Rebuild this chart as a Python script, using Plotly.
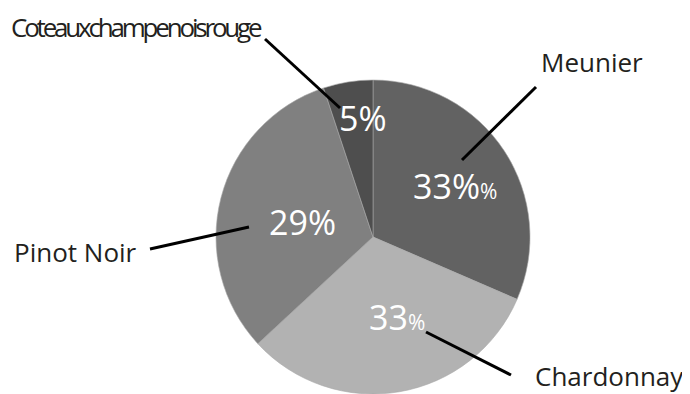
import plotly.graph_objects as go

categories = ["Meunier", "Chardonnay", "Pinot Noir", "Coteauxchampenoisrouge"]
values = [31.5, 31.6, 31.8, 5.1]
pct_labels = ["33%", "33", "29%", "5%"]
pct_suffix = ["%", "%", "", ""]

colors = ["#626262", "#b2b2b2", "#808080", "#4e4e4e"]

# the page body has an 8px margin; size the figure to fill the visible window
OFF = 8
W, H = 690 - OFF, 394 - OFF
cx, cy, r = 373 - OFF, 237 - OFF, 157

fig = go.Figure(go.Pie(
    labels=categories, values=values, sort=False, direction="clockwise",
    rotation=0, textinfo="none", hoverinfo="label+value",
    marker=dict(colors=colors, line=dict(color="#a8a8a8", width=0.6)),
    domain=dict(x=[(cx - r) / W, (cx + r) / W], y=[0, 2 * r / H]),
    showlegend=False,
))

def px(x, y):
    return (x - OFF) / W, 1 - (y - OFF) / H

font = "Open Sans"
annotations = []

# outside category labels
out_pos = [(592, 62, "center"), (686, 376, "right"), (12, 252, "left"), (9, 27, "left")]
for cat, (x, y, anc) in zip(categories, out_pos):
    t = cat
    if cat.startswith("Coteaux"):
        t = f'<span style="letter-spacing:-3.2px">{cat}</span>'
    ax, ay = px(x, y)
    annotations.append(dict(x=ax, y=ay, xref="paper", yref="paper", text=t,
                            showarrow=False, xanchor=anc, yanchor="middle",
                            font=dict(family=font, size=26, color="#231f20")))

# inside percentage labels
in_pos = [(455, 186), (397, 317), (302, 222), (363, 118)]
for lab, suf, (x, y) in zip(pct_labels, pct_suffix, in_pos):
    t = lab + (f'<span style="font-size:21px">{suf}</span>' if suf else "")
    ax, ay = px(x, y)
    annotations.append(dict(x=ax, y=ay, xref="paper", yref="paper", text=t,
                            showarrow=False, xanchor="center", yanchor="middle",
                            font=dict(family=font, size=34, color="white")))

# leader lines
leaders = [((536, 87), (462, 160)), ((426, 332), (511, 375)),
           ((150, 249), (249, 227)), ((265, 39), (340, 108))]
shapes = []
for (x0, y0), (x1, y1) in leaders:
    a0, b0 = px(x0, y0)
    a1, b1 = px(x1, y1)
    shapes.append(dict(type="line", xref="paper", yref="paper", x0=a0, y0=b0,
                       x1=a1, y1=b1, line=dict(color="black", width=3)))

fig.update_layout(width=W, height=H, margin=dict(l=0, r=0, t=0, b=0),
                  paper_bgcolor="white", plot_bgcolor="white",
                  annotations=annotations, shapes=shapes)

fig.write_html("out.html")
